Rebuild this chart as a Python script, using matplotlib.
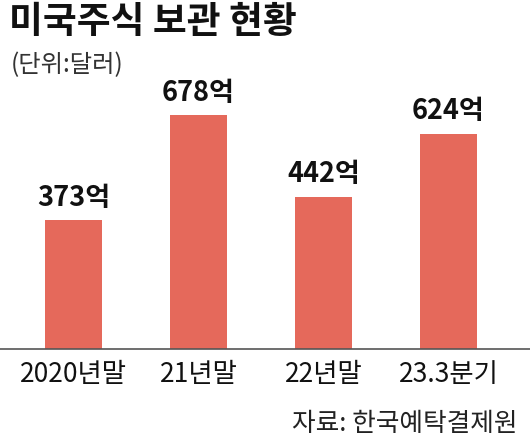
import matplotlib
matplotlib.use("Agg")
import matplotlib.pyplot as plt

plt.rcParams['font.family'] = ['Noto Sans CJK KR', 'DejaVu Sans']

categories = ["2020년말", "21년말", "22년말", "23.3분기"]
values = [373, 678, 442, 624]
value_labels = ["373억", "678억", "442억", "624억"]
title = "미국주식 보관 현황"
unit = "(단위:달러)"
source = "자료: 한국예탁결제원"

bar_color = "#E5695B"

fig = plt.figure(figsize=(5.30, 4.38), dpi=100)
ax = fig.add_axes([0, 89/438, 1, 349/438])
x = list(range(len(categories)))
ax.bar(x, values, width=0.456, color=bar_color, zorder=2)
ax.set_xlim(-0.588, 3.652)
ax.set_ylim(0, 1012)
ax.axhline(0, color="#555555", lw=1.2, zorder=3, clip_on=False)
for s in ax.spines.values():
    s.set_visible(False)
ax.set_xticks([])
ax.set_yticks([])

for xi, v, lab in zip(x, values, value_labels):
    ax.annotate(lab, (xi, v), xytext=(0, 6), textcoords="offset points",
                ha="center", va="bottom", fontsize=19.5, fontweight="bold",
                color="#111111")
for xi, c in zip(x, categories):
    ax.annotate(c, (xi, 0), xytext=(0, -18), textcoords="offset points",
                ha="center", va="center", fontsize=19, color="#111111",
                annotation_clip=False)

fig.text(9/530, 1 - 22/438, title, fontsize=26.5, fontweight="black",
         ha="left", va="center", color="#111111")
fig.text(11/530, 1 - 65/438, unit, fontsize=17.5, ha="left", va="center",
         color="#333333")
fig.text(517/530, 1 - 424/438, source, fontsize=18.5, ha="right", va="center",
         color="#222222")

fig.savefig("out.png", dpi=100)
